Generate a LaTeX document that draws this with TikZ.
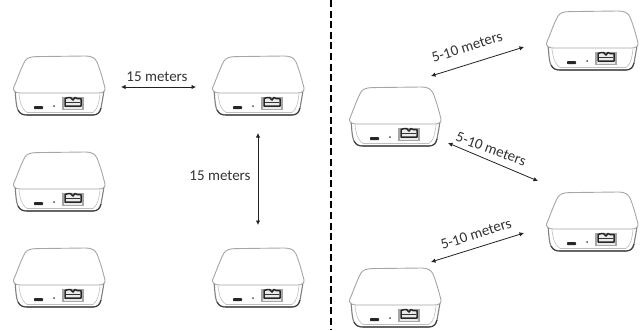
\documentclass[tikz,border=0pt]{standalone}
\usepackage{fontspec}
\setmainfont{Carlito}
\usetikzlibrary{arrows.meta}
\definecolor{arrowgrey}{HTML}{222222}
\tikzset{
  x=1pt,y=-1pt,
  meter/.style={{Latex[length=4.5pt,width=4.5pt]}-{Latex[length=4.5pt,width=4.5pt]},draw=arrowgrey,line width=0.8pt},
  meterlabel/.style={font=\fontsize{15}{16}\selectfont,text=black!80,inner sep=0pt},
  divider/.style={line width=1.8pt,draw=black,dash pattern=on 7pt off 3.6pt},
  device/.pic={
    % body
    \draw[draw=black!50,line width=1.1pt,fill=white]
      (2,34) .. controls (3,44) and (3,50) .. (5,54)
      .. controls (7,58) and (10,59) .. (14,59) -- (80,59)
      .. controls (85,59) and (87,56) .. (88,52)
      .. controls (89,46) and (90,42) .. (91,34);
    \draw[draw=black!75,line width=1.1pt]
      (5,54) .. controls (7,58) and (10,59) .. (14,59) -- (80,59)
      .. controls (85,59) and (87,56) .. (88,52);
    \draw[draw=black!25,line width=0.6pt] (6,38) .. controls (7,46) and (8,52) .. (14,56.5) -- (80,56.5) .. controls (85,53) and (86,46) .. (87,38);
    % lid
    \draw[draw=black!35,line width=0.9pt,fill=white]
      (0.5,32) .. controls (4,24) and (8,12) .. (12,5)
      .. controls (14,2) and (17,0.8) .. (23,0.6) -- (72,0)
      .. controls (79,0) and (82,2) .. (84,6)
      .. controls (87,13) and (90,24) .. (92,32)
      .. controls (92.5,35) and (90,37) .. (86,37)
      -- (7,37) .. controls (3,37) and (0,35) .. (0.5,32) -- cycle;
    % usb
    \fill[black!85,rounded corners=0.8pt] (21,50) rectangle (30,53.2);
    % dot
    \fill[black!70] (41,50) circle (1pt);
    % rj45
    \fill[black!35] (49,41) rectangle (70.5,54);
    \fill[black!8] (50.5,42) rectangle (69,52.5);
    \draw[black!85,line width=1.5pt,line join=round]
      (52,42.5) -- (52,50) -- (68,50) -- (68,42.5) -- (64,42.5) -- (62,41.5) -- (60,44) -- (57.5,41.5) -- (55.5,41.5) -- cycle;
    \draw[black!80,line width=1.2pt] (53,46.5) -- (67,46.5);
  }
}
\begin{document}
\begin{tikzpicture}
\useasboundingbox (0,0) rectangle (643,330);
\pic at (13,56) {device};
\pic at (212,56) {device};
\pic at (13,152) {device};
\pic at (13,248) {device};
\pic at (212,248) {device};
\pic at (349,87) {device};
\pic at (546,11) {device};
\pic at (546,192) {device};
\pic at (349,268) {device};
\coordinate (divtop) at (331,0);
\coordinate (divbot) at (331,330);
\draw[divider] (divtop) -- (divbot);
\coordinate (a1) at (121,87);
\coordinate (a2) at (196,87);
\coordinate (b1) at (258,133);
\coordinate (b2) at (258,225);
\coordinate (c1) at (431,76);
\coordinate (c2) at (524,47);
\coordinate (d1) at (448,143);
\coordinate (d2) at (538,181);
\coordinate (e1) at (431,262);
\coordinate (e2) at (524,233);
\draw[meter] (a1) -- (a2);
\draw[meter] (b1) -- (b2);
\draw[meter] (c1) -- (c2);
\draw[meter] (d1) -- (d2);
\draw[meter] (e1) -- (e2);
\node[meterlabel] (la) at (157,77) {15 meters};
\node[meterlabel] (lb) at (220,176) {15 meters};
\node[meterlabel,rotate=18] (lc) at (467,47) {5-10 meters};
\node[meterlabel,rotate=-20] (ld) at (491,149) {5-10 meters};
\node[meterlabel,rotate=18] (le) at (476,234) {5-10 meters};
\end{tikzpicture}
\end{document}
